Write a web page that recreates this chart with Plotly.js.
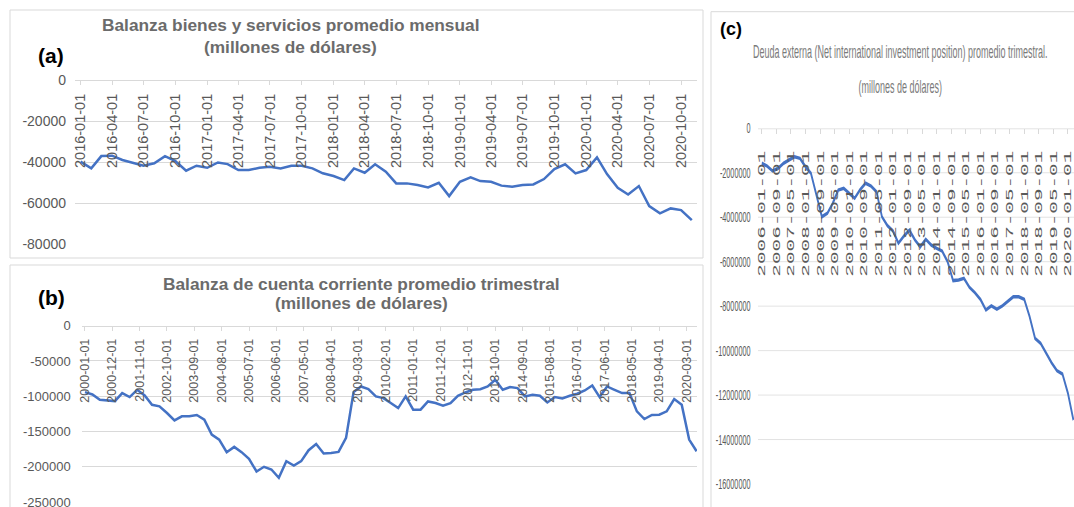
<!DOCTYPE html>
<html><head><meta charset="utf-8">
<script src="https://cdn.plot.ly/plotly-3.0.1.min.js"></script>
<style>
html,body{margin:0;padding:0;background:#fff;overflow:hidden;width:1074px;height:507px}
#ab{position:absolute;left:0;top:0;width:1074px;height:507px}
#c{position:absolute;left:705px;top:0;width:738px;height:507px;transform:scaleX(0.5);transform-origin:0 0}
</style></head><body>
<div id="ab"></div><div id="c"></div>
<script>
// ---------- DATA ----------
// (a) Balanza bienes y servicios, promedio mensual (millones de dólares)
const monthsA = ['2016-01','2016-02','2016-03','2016-04','2016-05','2016-06','2016-07','2016-08','2016-09','2016-10','2016-11','2016-12',
'2017-01','2017-02','2017-03','2017-04','2017-05','2017-06','2017-07','2017-08','2017-09','2017-10','2017-11','2017-12',
'2018-01','2018-02','2018-03','2018-04','2018-05','2018-06','2018-07','2018-08','2018-09','2018-10','2018-11','2018-12',
'2019-01','2019-02','2019-03','2019-04','2019-05','2019-06','2019-07','2019-08','2019-09','2019-10','2019-11','2019-12',
'2020-01','2020-02','2020-03','2020-04','2020-05','2020-06','2020-07','2020-08','2020-09','2020-10','2020-11'];
const balanzaA = [-39800,-43100,-37100,-36900,-39000,-40600,-41800,-40600,-37100,-39500,
-44200,-41800,-42800,-40200,-41000,-43900,-43900,-42800,-42300,-43100,
-41800,-41800,-43100,-45500,-46800,-48800,-43100,-45200,-41100,-44700,
-50400,-50400,-51200,-52400,-50100,-56600,-49600,-47500,-49300,-49600,
-51500,-52000,-51200,-50900,-48300,-43400,-41100,-45500,-43900,-37700,
-45900,-52500,-55800,-51700,-61500,-65000,-62600,-63400,-68300];
const yTicksA = [0,-20000,-40000,-60000,-80000];
const yTextA = ['0','-20000','-40000','-60000','-80000'];

// (b) Balanza de cuenta corriente, promedio trimestral
const quartersB = ['2000-01','2000-04','2000-07','2000-10','2001-01','2001-04','2001-07','2001-10',
'2002-01','2002-04','2002-07','2002-10','2003-01','2003-04','2003-07','2003-10',
'2004-01','2004-04','2004-07','2004-10','2005-01','2005-04','2005-07','2005-10',
'2006-01','2006-04','2006-07','2006-10','2007-01','2007-04','2007-07','2007-10',
'2008-01','2008-04','2008-07','2008-10','2009-01','2009-04','2009-07','2009-10',
'2010-01','2010-04','2010-07','2010-10','2011-01','2011-04','2011-07','2011-10',
'2012-01','2012-04','2012-07','2012-10','2013-01','2013-04','2013-07','2013-10',
'2014-01','2014-04','2014-07','2014-10','2015-01','2015-04','2015-07','2015-10',
'2016-01','2016-04','2016-07','2016-10','2017-01','2017-04','2017-07','2017-10',
'2018-01','2018-04','2018-07','2018-10','2019-01','2019-04','2019-07','2019-10',
'2020-01','2020-04','2020-07'];
const cuentaB = [-94100,-97400,-104900,-106300,-106800,-95500,-101100,-90800,-98800,-112000,
-114300,-123700,-134100,-128400,-128400,-126500,-133100,-154300,-161400,-179200,
-171700,-179200,-188600,-206500,-199900,-203700,-215500,-191900,-198000,-191900,
-176400,-167500,-181100,-180200,-178800,-159000,-94100,-86100,-89900,-100200,
-102600,-109600,-116700,-100200,-119000,-119000,-107300,-109600,-113400,-109600,
-99300,-94600,-90800,-89900,-86100,-76700,-90800,-87000,-88400,-100200,
-97800,-99300,-108700,-101100,-103000,-99300,-96400,-91700,-84700,-101100,
-86100,-90800,-95500,-95500,-121400,-132200,-126500,-126100,-121400,-104000,
-112000,-161400,-177800];
const yTicksB = [0,-50000,-100000,-150000,-200000,-250000];
const yTextB = ['0','-50000','-100000','-150000','-200000','-250000'];

// (c) Deuda externa (Net international investment position), promedio trimestral
const quartersC = ['2006-01','2006-04','2006-07','2006-10','2007-01','2007-04','2007-07','2007-10',
'2008-01','2008-04','2008-07','2008-10','2009-01','2009-04','2009-07','2009-10',
'2010-01','2010-04','2010-07','2010-10','2011-01','2011-04','2011-07','2011-10',
'2012-01','2012-04','2012-07','2012-10','2013-01','2013-04','2013-07','2013-10',
'2014-01','2014-04','2014-07','2014-10','2015-01','2015-04','2015-07','2015-10',
'2016-01','2016-04','2016-07','2016-10','2017-01','2017-04','2017-07','2017-10',
'2018-01','2018-04','2018-07','2018-10','2019-01','2019-04','2019-07','2019-10',
'2020-01','2020-04'];
const deudaC = [-1570000,-1700000,-1920000,-1800000,-1570000,-1430000,-1280000,-1350000,-1730000,-2020000,
-3000000,-3980000,-3820000,-3370000,-2780000,-2700000,-2930000,-3150000,-2760000,-2470000,
-2600000,-2850000,-3980000,-4380000,-4620000,-5170000,-4850000,-4580000,-5020000,-5330000,
-4990000,-5250000,-5400000,-5520000,-6000000,-6850000,-6820000,-6750000,-7150000,-7400000,
-7700000,-8170000,-7990000,-8140000,-7990000,-7800000,-7580000,-7580000,-7690000,-8470000,
-9450000,-9670000,-10120000,-10540000,-10900000,-11050000,-11920000,-13120000];
const yTicksC = [0,-2000000,-4000000,-6000000,-8000000,-10000000,-12000000,-14000000,-16000000];
const yTextC = ['0','-2000000','-4000000','-6000000','-8000000','-10000000','-12000000','-14000000','-16000000'];

const titleA = ['Balanza bienes y servicios promedio mensual','(millones de dólares)'];
const titleB = ['Balanza de cuenta corriente promedio trimestral','(millones de dólares)'];
const titleC = ['Deuda externa (Net international investment position) promedio trimestral.','(millones de dólares)'];

// ---------- LAYOUT HELPERS ----------
const W = 1074, H = 507;
const fx = p => p / W, fy = p => 1 - p / H;
const BLUE = '#4472C4', GRID = '#d9d9d9', TXT = '#595959', TTL = '#6b6b6b';
const FONT = 'Liberation Sans, Arial, sans-serif';

function rect(x0, y0, x1, y1) {
  return {type:'rect', xref:'paper', yref:'paper', x0:fx(x0), x1:fx(x1), y0:fy(y1), y1:fy(y0),
          line:{color:GRID, width:1}, fillcolor:'rgba(0,0,0,0)', layer:'below'};
}
function ann(text, x, y, size, color, bold) {
  return {text: bold ? '<b>' + text + '</b>' : text, x:fx(x), y:fy(y), xref:'paper', yref:'paper',
          showarrow:false, xanchor:'center', yanchor:'middle', font:{family:FONT, size:size, color:color}};
}

const layoutAB = {
  width:W, height:H, margin:{l:0,r:0,t:0,b:0}, paper_bgcolor:'#fff', plot_bgcolor:'rgba(0,0,0,0)',
  showlegend:false, font:{family:FONT, color:TXT},
  xaxis:{domain:[fx(75), fx(697)], anchor:'free', position:fy(80), type:'date',
    range:['2015-12-16','2020-11-16'], tick0:'2016-01-01', dtick:'M3', tickformat:'%Y-%m-%d',
    tickangle:-90, tickfont:{size:14.5, color:TXT}, showgrid:false, zeroline:false, ticklabeloverflow:'allow',
    showline:true, linecolor:GRID, ticks:'outside', ticklen:4, tickcolor:GRID, ticklabelstandoff:3},
  yaxis:{domain:[fy(244.3), fy(80)], anchor:'x', range:[-80100,0], tickmode:'array', tickvals:yTicksA, ticktext:yTextA,
    showgrid:true, gridcolor:GRID, gridwidth:1, zeroline:false, showline:false, ticks:'', ticklabeloverflow:'allow',
    tickfont:{size:14, color:TXT}, ticklabelstandoff:8},
  xaxis2:{domain:[fx(81.7), fx(697)], anchor:'free', position:fy(325.7), type:'date',
    range:['1999-11-22','2020-07-06'], tick0:'2000-01-01', dtick:'M11', tickformat:'%Y-%m-%d',
    tickangle:-90, tickfont:{size:12.5, color:TXT}, showgrid:false, zeroline:false, ticklabeloverflow:'allow',
    showline:true, linecolor:GRID, ticks:'outside', ticklen:4, tickcolor:GRID, ticklabelstandoff:3},
  yaxis2:{domain:[fy(502.3), fy(325.7)], anchor:'x2', range:[-250200,0], tickmode:'array', tickvals:yTicksB, ticktext:yTextB,
    showgrid:true, gridcolor:GRID, gridwidth:1, zeroline:false, showline:false, ticks:'', ticklabeloverflow:'allow',
    tickfont:{size:13, color:TXT}, ticklabelstandoff:10},
  shapes:[rect(10,10,703,258), rect(10,265,703,520), rect(711,11.7,1090,520)],
  annotations:[
    ann(titleA[0], 290, 25, 17.3, TTL, true), ann(titleA[1], 290, 47, 17.3, TTL, true),
    ann('(a)', 51, 55, 21, '#000', true),
    ann(titleB[0], 361, 284, 17.3, TTL, true), ann(titleB[1], 361, 303, 17.3, TTL, true),
    ann('(b)', 51, 297, 21, '#000', true),
    ann('(c)', 731, 29, 18, '#000', true)
  ]
};

const tracesAB = [
  {x:monthsA, y:balanzaA, xaxis:'x', yaxis:'y', mode:'lines', line:{color:BLUE, width:2.5}, hoverinfo:'skip'},
  {x:quartersB, y:cuentaB, xaxis:'x2', yaxis:'y2', mode:'lines', line:{color:BLUE, width:2.5}, hoverinfo:'skip'}
];

// panel (c): drawn at double width, then squeezed horizontally by CSS (as in the reference)
const WC = 738, SC = 0.5, LC = 705;
const cx = p => (p - LC) / SC / WC;
const layoutC = {
  width:WC, height:H, margin:{l:0,r:0,t:0,b:0}, paper_bgcolor:'rgba(0,0,0,0)', plot_bgcolor:'rgba(0,0,0,0)',
  showlegend:false, font:{family:FONT, color:TXT},
  xaxis:{domain:[cx(758), 1], anchor:'free', position:fy(128.3), type:'date',
    range:['2005-10-30','2020-04-11'], tick0:'2006-01-01', dtick:'M8', tickformat:'%Y-%m-%d',
    tickangle:-90, tickfont:{family:'Liberation Mono, DejaVu Sans Mono, monospace', size:21, color:TXT},
    showgrid:false, zeroline:false, ticklabeloverflow:'allow',
    showline:true, linecolor:GRID, ticks:'outside', ticklen:5, tickcolor:GRID, tickwidth:2, ticklabelstandoff:8},
  yaxis:{domain:[fy(484), fy(128.3)], anchor:'x', range:[-16000000,0], tickmode:'array', tickvals:yTicksC, ticktext:yTextC,
    showgrid:true, gridcolor:GRID, gridwidth:1, zeroline:false, showline:false, ticks:'', ticklabeloverflow:'allow',
    tickfont:{size:14.5, color:TXT}, ticklabelstandoff:14},
  annotations:[
    {text:titleC[0], x:cx(900), y:fy(52), xref:'paper', yref:'paper', showarrow:false, xanchor:'center', yanchor:'middle',
     font:{family:FONT, size:18, color:'#7a7a7a'}},
    {text:titleC[1], x:cx(900), y:fy(87), xref:'paper', yref:'paper', showarrow:false, xanchor:'center', yanchor:'middle',
     font:{family:FONT, size:18, color:'#7a7a7a'}}
  ]
};
const tracesC = [
  {x:quartersC, y:deudaC, mode:'lines', line:{color:BLUE, width:3.5}, hoverinfo:'skip'}
];

const cfg = {displayModeBar:false, staticPlot:true};
Plotly.newPlot('ab', tracesAB, layoutAB, cfg);
Plotly.newPlot('c', tracesC, layoutC, cfg);
</script>
</body></html>
